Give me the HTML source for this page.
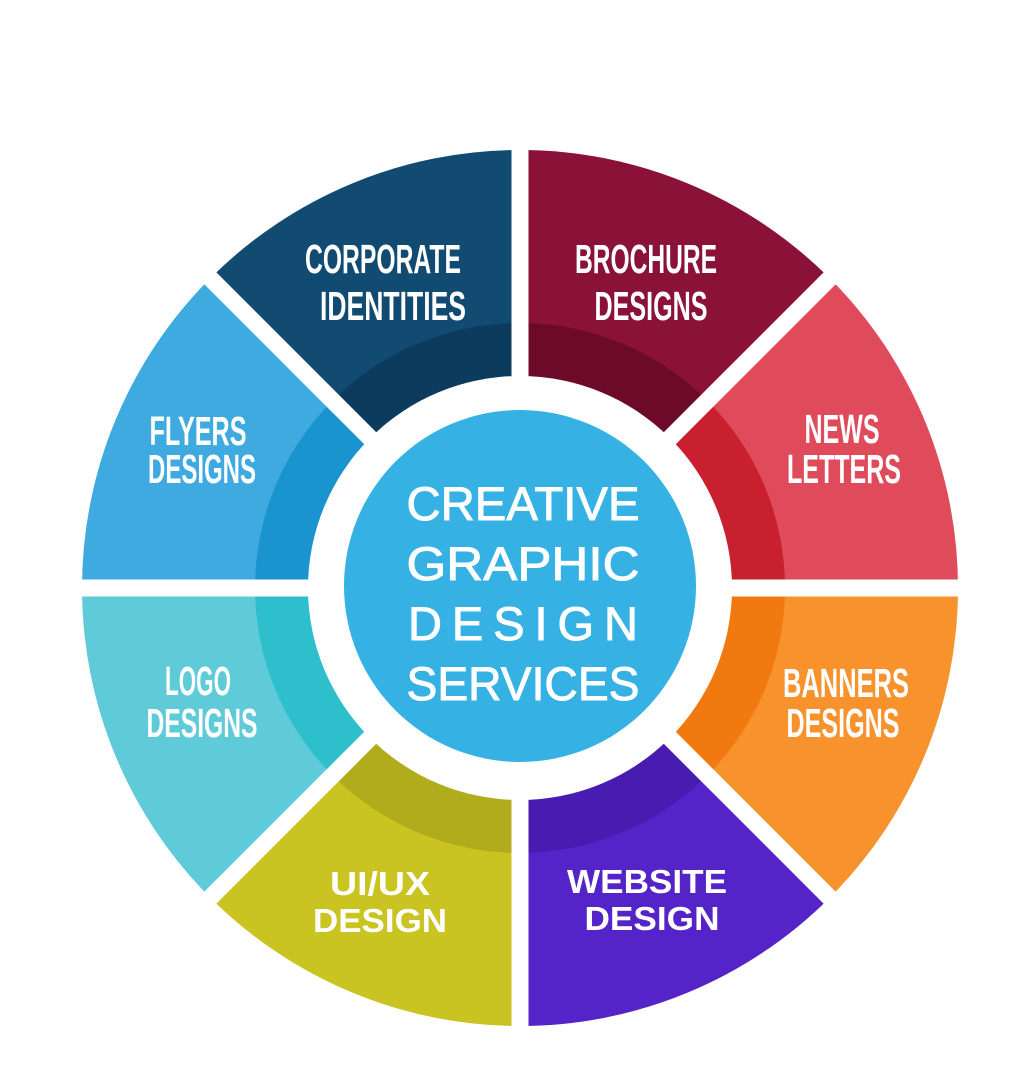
<!DOCTYPE html>
<html><head><meta charset="utf-8"><style>
html,body{margin:0;padding:0;background:#fff;}
svg{display:block}
.c{font-family:"Liberation Sans",sans-serif;font-weight:bold;fill:#fff;text-anchor:middle;font-size:41px}
.w{font-family:"Liberation Sans",sans-serif;font-weight:bold;fill:#fff;text-anchor:middle;font-size:33px}
.m{font-family:"Liberation Sans",sans-serif;fill:#fff;stroke:#fff;stroke-width:0.9;text-anchor:middle;font-size:47px}
</style></head><body>
<svg width="1018" height="1080" viewBox="0 0 1018 1080">
<rect width="1018" height="1080" fill="#fff"/>
<path d="M520 588 L210.3 278.3 A438 438 0 0 1 520 150 Z" fill="#124b72"/>
<path d="M520 588 L520 150 A438 438 0 0 1 829.7 278.3 Z" fill="#8a1138"/>
<path d="M520 588 L829.7 278.3 A438 438 0 0 1 958 588 Z" fill="#e04b5b"/>
<path d="M520 588 L958 588 A438 438 0 0 1 829.7 897.7 Z" fill="#f7922c"/>
<path d="M520 588 L829.7 897.7 A438 438 0 0 1 520 1026 Z" fill="#5524c8"/>
<path d="M520 588 L520 1026 A438 438 0 0 1 210.3 897.7 Z" fill="#c9c422"/>
<path d="M520 588 L210.3 897.7 A438 438 0 0 1 82 588 Z" fill="#60cbd8"/>
<path d="M520 588 L82 588 A438 438 0 0 1 210.3 278.3 Z" fill="#3eaae0"/>
<path d="M520 588 L332.6 400.6 A265 265 0 0 1 520 323 Z" fill="#0c3b5e"/>
<path d="M520 588 L520 323 A265 265 0 0 1 707.4 400.6 Z" fill="#6d0a2a"/>
<path d="M520 588 L707.4 400.6 A265 265 0 0 1 785 588 Z" fill="#c8202f"/>
<path d="M520 588 L785 588 A265 265 0 0 1 707.4 775.4 Z" fill="#f17a10"/>
<path d="M520 588 L707.4 775.4 A265 265 0 0 1 520 853 Z" fill="#481cb0"/>
<path d="M520 588 L520 853 A265 265 0 0 1 332.6 775.4 Z" fill="#b0ac1c"/>
<path d="M520 588 L332.6 775.4 A265 265 0 0 1 255 588 Z" fill="#2ebfcd"/>
<path d="M520 588 L255 588 A265 265 0 0 1 332.6 400.6 Z" fill="#1a94cf"/>
<circle cx="520" cy="588" r="212" fill="#fff"/>
<g stroke="#fff" stroke-width="17">
<line x1="520" y1="140" x2="520" y2="1036"/>
<line x1="72" y1="588" x2="968" y2="588"/>
<line x1="203" y1="271" x2="837" y2="905"/>
<line x1="837" y1="271" x2="203" y2="905"/>
</g>
<circle cx="520" cy="586" r="176" fill="#36b1e4"/>
<text class="c" x="383" y="273" textLength="156" lengthAdjust="spacingAndGlyphs">CORPORATE</text>
<text class="c" x="393" y="320" textLength="146" lengthAdjust="spacingAndGlyphs">IDENTITIES</text>
<text class="c" x="646" y="273" textLength="142" lengthAdjust="spacingAndGlyphs">BROCHURE</text>
<text class="c" x="651" y="320" textLength="113" lengthAdjust="spacingAndGlyphs">DESIGNS</text>
<text class="c" x="842" y="443" textLength="75" lengthAdjust="spacingAndGlyphs">NEWS</text>
<text class="c" x="844" y="483" textLength="114" lengthAdjust="spacingAndGlyphs">LETTERS</text>
<text class="c" x="198" y="445" textLength="97" lengthAdjust="spacingAndGlyphs">FLYERS</text>
<text class="c" x="202" y="483" textLength="108" lengthAdjust="spacingAndGlyphs">DESIGNS</text>
<text class="c" x="198" y="695" textLength="66" lengthAdjust="spacingAndGlyphs">LOGO</text>
<text class="c" x="202" y="737" textLength="111" lengthAdjust="spacingAndGlyphs">DESIGNS</text>
<text class="c" x="846" y="697" textLength="126" lengthAdjust="spacingAndGlyphs">BANNERS</text>
<text class="c" x="843" y="737" textLength="113" lengthAdjust="spacingAndGlyphs">DESIGNS</text>
<text class="w" x="380" y="895" textLength="100" lengthAdjust="spacingAndGlyphs">UI/UX</text>
<text class="w" x="380" y="932" textLength="134" lengthAdjust="spacingAndGlyphs">DESIGN</text>
<text class="w" x="647" y="893" textLength="160" lengthAdjust="spacingAndGlyphs">WEBSITE</text>
<text class="w" x="652" y="930" textLength="135" lengthAdjust="spacingAndGlyphs">DESIGN</text>
<text class="m" x="523" y="520" textLength="233" lengthAdjust="spacingAndGlyphs">CREATIVE</text>
<text class="m" x="523" y="580" textLength="233" lengthAdjust="spacingAndGlyphs">GRAPHIC</text>
<text class="m" x="523" y="640" textLength="230" lengthAdjust="spacing">DESIGN</text>
<text class="m" x="523" y="700" textLength="233" lengthAdjust="spacingAndGlyphs">SERVICES</text>
</svg>
</body></html>
